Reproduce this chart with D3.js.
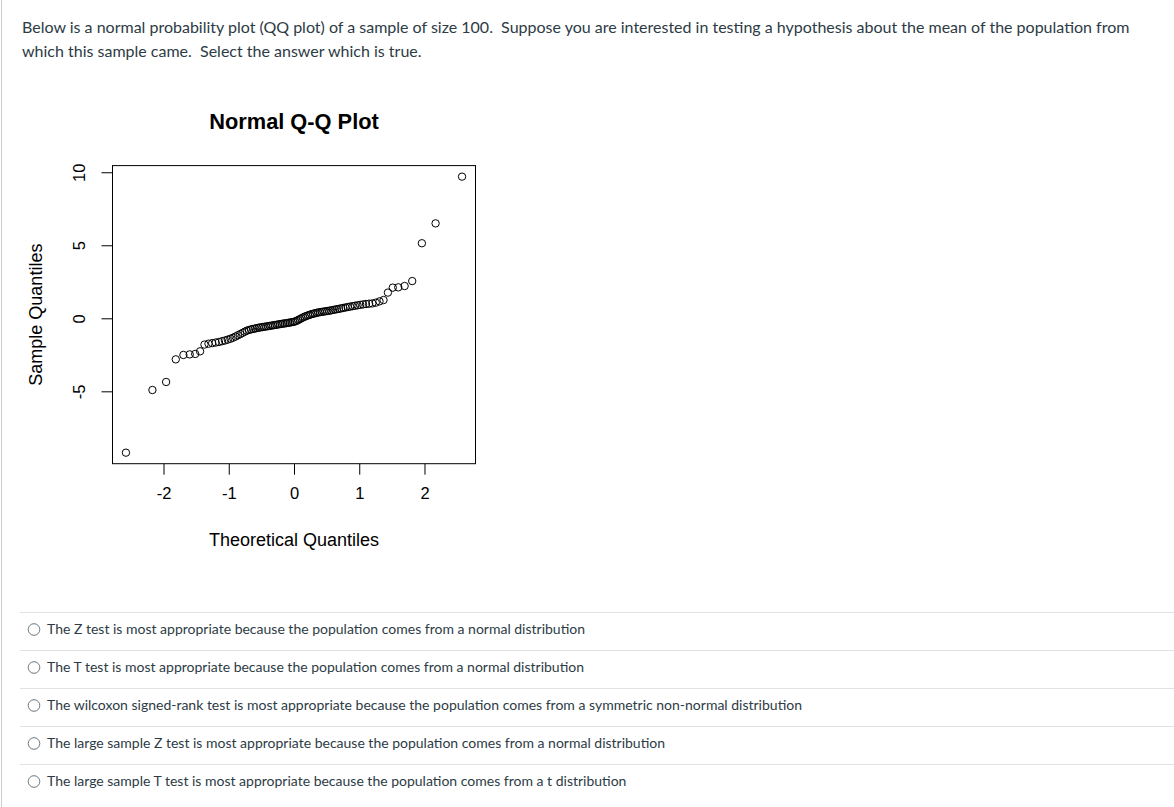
<!DOCTYPE html>
<html>
<head>
<meta charset="utf-8">
<script src="https://cdn.jsdelivr.net/npm/d3@7"></script>
<style>
  html, body { margin: 0; padding: 0; background: #fff; }
  svg { display: block; }
</style>
</head>
<body>
<svg id="chart" width="1174" height="807"></svg>
<script>
// ---- data ----
const questionLines = [
  "Below is a normal probability plot (QQ plot) of a sample of size 100.  Suppose you are interested in testing a hypothesis about the mean of the population from",
  "which this sample came.  Select the answer which is true."
];
const options = [
  "The Z test is most appropriate because the population comes from a normal distribution",
  "The T test is most appropriate because the population comes from a normal distribution",
  "The wilcoxon signed-rank test is most appropriate because the population comes from a symmetric non-normal distribution",
  "The large sample Z test is most appropriate because the population comes from a normal distribution",
  "The large sample T test is most appropriate because the population comes from a t distribution"
];
const chartTitle = "Normal Q-Q Plot";
const xTitle = "Theoretical Quantiles";
const yTitle = "Sample Quantiles";
const xTicks = [-2, -1, 0, 1, 2];
const yTicks = [-5, 0, 5, 10];

// theoretical normal quantiles for the lower half of n = 100 (upper half mirrors)
const theoLower = [
  -2.5758, -2.1701, -1.9600, -1.8119, -1.6954, -1.5982, -1.5141, -1.4395, -1.3722, -1.3106,
  -1.2536, -1.2004, -1.1503, -1.1031, -1.0581, -1.0152, -0.9741, -0.9346, -0.8965, -0.8596,
  -0.8239, -0.7892, -0.7554, -0.7225, -0.6903, -0.6588, -0.6280, -0.5978, -0.5681, -0.5388,
  -0.5101, -0.4817, -0.4538, -0.4261, -0.3989, -0.3719, -0.3451, -0.3186, -0.2924, -0.2663,
  -0.2404, -0.2147, -0.1891, -0.1637, -0.1383, -0.1130, -0.0878, -0.0627, -0.0376, -0.0125
];
// sorted sample values
const sample = [
  -9.20, -4.91, -4.36, -2.81, -2.51, -2.47, -2.44, -2.26, -1.80, -1.74,
  -1.70, -1.66, -1.62, -1.57, -1.52, -1.46, -1.40, -1.33, -1.25, -1.16,
  -1.08, -1.00, -0.92, -0.85, -0.80, -0.76, -0.73, -0.70, -0.67, -0.64,
  -0.62, -0.60, -0.58, -0.56, -0.54, -0.52, -0.50, -0.48, -0.46, -0.44,
  -0.42, -0.40, -0.38, -0.36, -0.35, -0.33, -0.31, -0.29, -0.27, -0.25,
  -0.22, -0.18, -0.12, -0.06, 0.00, 0.06, 0.11, 0.16, 0.20, 0.24,
  0.28, 0.31, 0.34, 0.37, 0.40, 0.42, 0.44, 0.46, 0.48, 0.50,
  0.52, 0.54, 0.57, 0.60, 0.62, 0.65, 0.68, 0.71, 0.74, 0.77,
  0.80, 0.83, 0.86, 0.89, 0.92, 0.95, 0.98, 1.00, 1.02, 1.07,
  1.16, 1.25, 1.76, 2.10, 2.12, 2.21, 2.55, 5.14, 6.50, 9.70
];

const theo = theoLower.concat(theoLower.slice().reverse().map(v => -v));
const points = sample.map((v, i) => ({ x: theo[i], y: v }));

// ---- drawing ----
const svg = d3.select("#chart");
svg.append("rect").attr("width", 1174).attr("height", 807).attr("fill", "#fff");
svg.append("line").attr("x1", 1.5).attr("x2", 1.5).attr("y1", 0).attr("y2", 807)
  .attr("stroke", "#c7cdd1").attr("stroke-width", 1);

const textColor = "#2d3b45";
svg.selectAll("text.q").data(questionLines).join("text")
  .attr("class", "q")
  .attr("x", 22).attr("y", (d, i) => 33 + i * 24)
  .attr("font-family", "Lato, sans-serif").attr("font-size", 16)
  .attr("fill", textColor)
  .attr("xml:space", "preserve")
  .style("white-space", "pre")
  .text(d => d);

// plot region (R-style 4% padding)
const plotL = 112.5, plotR = 475.5, plotT = 165.6, plotB = 463.7;
function pad(ext) { const d = (ext[1] - ext[0]) * 0.04; return [ext[0] - d, ext[1] + d]; }
const x = d3.scaleLinear().domain(pad(d3.extent(theo))).range([plotL, plotR]);
const y = d3.scaleLinear().domain(pad(d3.extent(sample))).range([plotB, plotT]);

const font = "'Liberation Sans', Arial, Helvetica, sans-serif";

svg.append("text").attr("x", 294).attr("y", 129)
  .attr("text-anchor", "middle").attr("font-family", font)
  .attr("font-weight", "bold").attr("font-size", 21.8).attr("fill", "#000")
  .text(chartTitle);

const fmt = d => String(d);
const gx = svg.append("g").attr("transform", `translate(0,${plotB})`)
  .call(d3.axisBottom(x).tickValues(xTicks).tickSize(11).tickPadding(13).tickFormat(fmt));
const gy = svg.append("g").attr("transform", `translate(${plotL},0)`)
  .call(d3.axisLeft(y).tickValues(yTicks).tickSize(11).tickPadding(13).tickFormat(fmt));
[gx, gy].forEach(g => {
  g.select(".domain").remove();
  g.selectAll(".tick line").attr("stroke", "#000").attr("stroke-width", 1);
  g.selectAll(".tick text").attr("font-family", font).attr("font-size", 16.5).attr("fill", "#000");
});
gy.selectAll(".tick text")
  .attr("text-anchor", "middle").attr("dy", null)
  .attr("transform", `translate(-33.5,0) rotate(-90)`)
  .attr("x", 0).attr("y", 0).attr("dominant-baseline", "central");
gx.selectAll(".tick text").attr("dy", "0.71em");

svg.append("rect").attr("x", plotL).attr("y", plotT)
  .attr("width", plotR - plotL).attr("height", plotB - plotT)
  .attr("fill", "none").attr("stroke", "#000").attr("stroke-width", 1);

svg.append("text").attr("x", 294).attr("y", 546)
  .attr("text-anchor", "middle").attr("font-family", font).attr("font-size", 18).attr("fill", "#000")
  .text(xTitle);
svg.append("text").attr("transform", `translate(42,${(plotT + plotB) / 2}) rotate(-90)`)
  .attr("text-anchor", "middle").attr("font-family", font).attr("font-size", 18).attr("fill", "#000")
  .text(yTitle);

svg.append("g").selectAll("circle").data(points).join("circle")
  .attr("cx", d => x(d.x)).attr("cy", d => y(d.y)).attr("r", 3.7)
  .attr("fill", "none").attr("stroke", "#000").attr("stroke-width", 1);

// answer options
const optTop = 612.5, optStep = 38;
const og = svg.append("g");
og.selectAll("line").data(options).join("line")
  .attr("x1", 20).attr("x2", 1174)
  .attr("y1", (d, i) => optTop + i * optStep).attr("y2", (d, i) => optTop + i * optStep)
  .attr("stroke", "#dfe3e6").attr("stroke-width", 1);
og.selectAll("circle").data(options).join("circle")
  .attr("cx", 34).attr("cy", (d, i) => optTop + 17 + i * optStep).attr("r", 5.8)
  .attr("fill", "#fff").attr("stroke", "#6b7780").attr("stroke-width", 1);
og.selectAll("text").data(options).join("text")
  .attr("x", 47).attr("y", (d, i) => optTop + 21 + i * optStep)
  .attr("font-family", "Lato, sans-serif").attr("font-size", 14).attr("fill", textColor)
  .text(d => d);
</script>
</body>
</html>
